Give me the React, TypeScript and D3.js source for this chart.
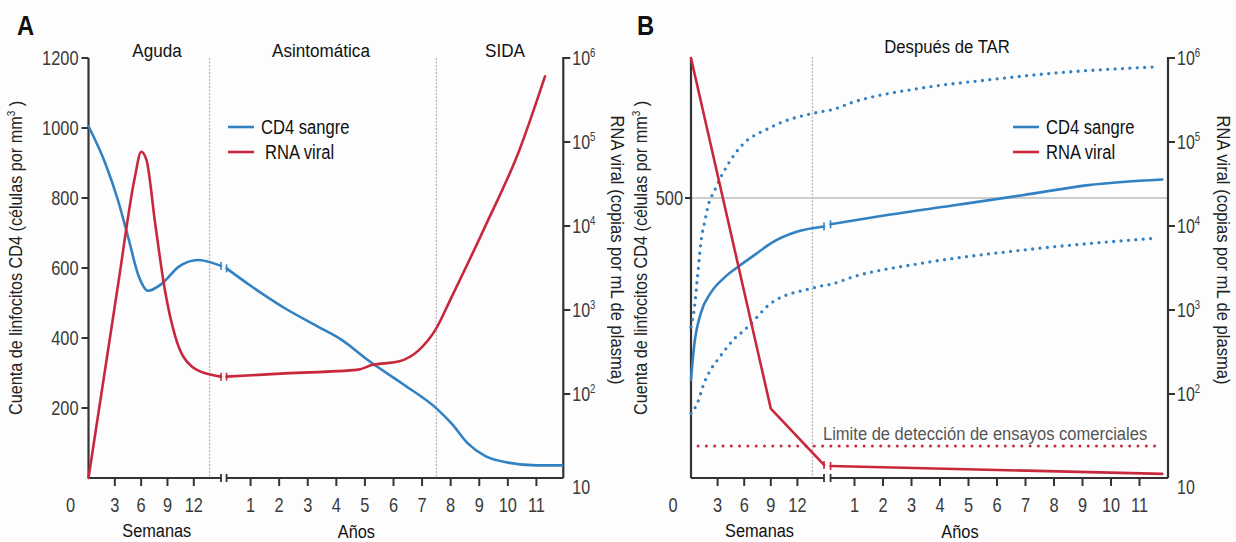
import React from 'react';
import * as d3 from 'd3';

// ---------- data ----------
const weekTicks = [3, 6, 9, 12];
const yearTicks = [1, 2, 3, 4, 5, 6, 7, 8, 9, 10, 11];
const cd4TicksA = [200, 400, 600, 800, 1000, 1200];
const cd4TicksB = [500];
const rnaTicks = [2, 3, 4, 5, 6]; // powers of ten
const phaseLabelsA = ['Aguda', 'Asintomática', 'SIDA'];
const phaseLabelB = 'Después de TAR';
const legendLabels = ['CD4 sangre', 'RNA viral'];
const detectionLabel = 'Limite de detección de ensayos comerciales';

// Panel A – untreated course. [weeks, value] then [years, value]
const cd4AcuteA: [number, number][] = [
  [0, 1005], [1.9, 900], [3.4, 790], [4.55, 685], [5.7, 578], [6.8, 535],
  [8.4, 556], [10.3, 604], [12.5, 623], [15.1, 606],
];
const cd4ChronicA: [number, number][] = [
  [0.16, 599], [1.04, 547], [2.2, 485], [3.37, 432], [4.2, 394], [5.1, 337],
  [6.3, 270], [7.5, 199], [8.03, 156], [8.6, 99], [9.2, 63], [10, 44], [11, 36], [11.9, 36],
];
const rnaAcuteA: [number, number][] = [
  [0, 10], [3.4, 2100], [5.3, 38900], [6.0, 76700], [6.6, 61700], [7.6, 10700],
  [8.7, 1740], [9.9, 479], [11.8, 211], [14.1, 168], [15.1, 161],
];
const rnaChronicA: [number, number][] = [
  [0.16, 161], [2.2, 176], [4.77, 195], [5.24, 221], [6.17, 243], [6.88, 331],
  [7.46, 575], [8.04, 1445], [9.2, 9770], [10.4, 79400], [11.3, 603000],
];

// Panel B – after antiretroviral therapy
const cd4WeeksB: [number, number][] = [
  [0, 175], [0.34, 234], [1.1, 294], [2.2, 330], [3.7, 357], [5.2, 376],
  [7.15, 398], [9, 419], [12, 440], [15, 449],
];
const cd4YearsB: [number, number][] = [
  [0.16, 453], [2.2, 470], [4.5, 487], [6.9, 505], [9.2, 523], [11.8, 533],
];
const cd4HighWeeksB: [number, number][] = [
  [0, 270], [0.35, 300], [0.7, 354], [1.15, 425], [1.55, 458], [2.05, 493],
  [2.6, 511], [3.05, 527], [5.3, 586], [9.1, 627], [13.7, 651], [15, 655],
];
const cd4HighYearsB: [number, number][] = [
  [0.16, 657], [1, 672], [3.3, 696], [5.7, 711], [8, 723], [11.5, 734],
];
const cd4LowWeeksB: [number, number][] = [
  [0, 115], [0.7, 133], [1.47, 169], [2.2, 193], [3.0, 211], [4.1, 234],
  [4.9, 249], [5.8, 261], [6.6, 273], [9, 312], [13.7, 339], [15, 344],
];
const cd4LowYearsB: [number, number][] = [
  [0.16, 346], [1, 360], [3.3, 383], [6.9, 407], [11.5, 428],
];
const rnaWeeksB: [number, number][] = [[0, 1e6], [9, 67], [15, 14.3]];
const rnaYearsB: [number, number][] = [[0.16, 13.9], [11.8, 11.2]];
const detectionLimit = 24;

// ---------- style ----------
const W = 1236;
const H = 542;
const FONT = "'Liberation Sans', Arial, sans-serif";
const BLUE = '#3282c3';
const RED = '#c8283c';
const AXIS = '#333';
const LABEL = '#3a3a3a';
const GUIDE = '#b4b4b4';

const TOP = 58;
const BOTTOM = 478;

type Pt = [number, number];
type Scale = (v: number) => number;

const smooth = d3.line<Pt>().x((d) => d[0]).y((d) => d[1]).curve(d3.curveMonotoneX);
const straight = d3.line<Pt>().x((d) => d[0]).y((d) => d[1]);

const mapPts = (pts: Pt[], sx: Scale, sy: Scale): Pt[] => pts.map((d) => [sx(d[0]), sy(d[1])]);

// Narrow text: the face is squeezed horizontally around its anchor point.
function T({ x, y, size, sx = 0.86, anchor = 'start', fill = '#111', rotate = 0, weight, children }:
  { x: number; y: number; size: number; sx?: number; anchor?: string; fill?: string; rotate?: number; weight?: string; children: React.ReactNode }) {
  return (
    <text
      transform={`translate(${x},${y}) rotate(${rotate}) scale(${sx},1)`}
      fontSize={size}
      fontFamily={FONT}
      fill={fill}
      fontWeight={weight}
      textAnchor={anchor as any}
    >
      {children}
    </text>
  );
}

function Series({ pts, color, curved = true, capStart = false, capEnd = false, dotted = false }:
  { pts: Pt[]; color: string; curved?: boolean; capStart?: boolean; capEnd?: boolean; dotted?: boolean }) {
  const gen = curved ? smooth : straight;
  const first = pts[0];
  const last = pts[pts.length - 1];
  return (
    <g>
      <path
        d={gen(pts) || ''}
        fill="none"
        stroke={color}
        strokeWidth={dotted ? 3.3 : 2.6}
        strokeLinecap="round"
        strokeDasharray={dotted ? '0 7.4' : undefined}
      />
      {capStart && <line x1={first[0]} x2={first[0]} y1={first[1] - 4} y2={first[1] + 4} stroke={color} strokeWidth={1.6} />}
      {capEnd && <line x1={last[0]} x2={last[0]} y1={last[1] - 4} y2={last[1] + 4} stroke={color} strokeWidth={1.6} />}
    </g>
  );
}

function BottomAxis({ xw, xy, weekEnd, yearStart, yearEnd }:
  { xw: d3.ScaleLinear<number, number>; xy: d3.ScaleLinear<number, number>; weekEnd: number; yearStart: number; yearEnd: number }) {
  const wa = xw(0);
  const wb = xw(weekEnd);
  const ya = xy(yearStart);
  const yb = xy(yearEnd);
  return (
    <g>
      <line x1={wa} x2={wb} y1={BOTTOM} y2={BOTTOM} stroke={AXIS} strokeWidth={2.2} />
      <line x1={ya} x2={yb} y1={BOTTOM} y2={BOTTOM} stroke={AXIS} strokeWidth={2.2} />
      <line x1={wb} x2={wb} y1={BOTTOM - 4} y2={BOTTOM + 4} stroke={AXIS} strokeWidth={1.8} />
      <line x1={ya} x2={ya} y1={BOTTOM - 4} y2={BOTTOM + 4} stroke={AXIS} strokeWidth={1.8} />
      <T x={wa - 18} y={512} size={20} sx={0.82} anchor="middle" fill={LABEL}>0</T>
      {weekTicks.map((t) => (
        <g key={'w' + t}>
          <line x1={xw(t)} x2={xw(t)} y1={BOTTOM} y2={BOTTOM + 8} stroke={AXIS} strokeWidth={2} />
          <T x={xw(t)} y={512} size={20} sx={0.82} anchor="middle" fill={LABEL}>{t}</T>
        </g>
      ))}
      {yearTicks.map((t) => (
        <g key={'y' + t}>
          <line x1={xy(t)} x2={xy(t)} y1={BOTTOM} y2={BOTTOM + 8} stroke={AXIS} strokeWidth={2} />
          <T x={xy(t)} y={512} size={20} sx={0.82} anchor="middle" fill={LABEL}>{t}</T>
        </g>
      ))}
      <T x={(wa + wb) / 2 + 2} y={537} size={19} sx={0.86} anchor="middle">Semanas</T>
      <T x={xy(4.7)} y={538} size={19} sx={0.86} anchor="middle">Años</T>
    </g>
  );
}

function RightAxis({ x, yr }: { x: number; yr: d3.ScaleLogarithmic<number, number> }) {
  return (
    <g>
      <line x1={x} x2={x} y1={TOP - 1} y2={BOTTOM} stroke={AXIS} strokeWidth={2.2} />
      {rnaTicks.map((e) => (
        <g key={e}>
          <line x1={x} x2={x + 7} y1={yr(Math.pow(10, e))} y2={yr(Math.pow(10, e))} stroke={AXIS} strokeWidth={2} />
          <T x={x + 9} y={yr(Math.pow(10, e)) + 7} size={20} sx={0.8} fill={LABEL}>
            10<tspan fontSize={12} dy={-8}>{e}</tspan>
          </T>
        </g>
      ))}
      <T x={x + 9} y={BOTTOM + 16} size={20} sx={0.8} fill={LABEL}>10</T>
    </g>
  );
}

function AxisTitles({ xl, xr, cy }: { xl: number; xr: number; cy: number }) {
  return (
    <g>
      <T x={xl} y={cy} size={18} sx={0.9} rotate={-90} anchor="middle" fill="#222">
        Cuenta de linfocitos CD4 (células por mm<tspan fontSize={11} dy={-7}>3</tspan><tspan dy={7}> )</tspan>
      </T>
      <T x={xr} y={cy - 8} size={18} sx={0.92} rotate={90} anchor="middle" fill="#222">
        RNA viral (copias por mL de plasma)
      </T>
    </g>
  );
}

function Legend({ x, tx }: { x: number; tx: number[] }) {
  return (
    <g>
      <line x1={x} x2={x + 26} y1={127} y2={127} stroke={BLUE} strokeWidth={2.6} />
      <T x={tx[0]} y={134} size={21} sx={0.79}>{legendLabels[0]}</T>
      <line x1={x} x2={x + 26} y1={152} y2={152} stroke={RED} strokeWidth={2.6} />
      <T x={tx[1]} y={159} size={21} sx={0.79}>{legendLabels[1]}</T>
    </g>
  );
}

function PanelA() {
  const xw = d3.scaleLinear().domain([0, 15.1]).range([88.5, 221]);
  const xy = d3.scaleLinear().domain([0, 12]).range([222, 565]);
  const yl = d3.scaleLinear().domain([0, 1200]).range([BOTTOM, TOP]);
  const yr = d3.scaleLog().domain([10, 1e6]).range([BOTTOM, TOP]);
  const right = xy(11.94);
  return (
    <g>
      <T x={17} y={35} size={28} sx={0.85} weight="bold">A</T>
      {/* phase boundaries */}
      {[xw(13.8), xy(7.5)].map((x, i) => (
        <line key={i} x1={x} x2={x} y1={TOP} y2={BOTTOM} stroke={GUIDE} strokeWidth={1.2} strokeDasharray="2 1.5" />
      ))}
      <T x={157} y={57} size={19} sx={0.9} anchor="middle">{phaseLabelsA[0]}</T>
      <T x={321} y={57} size={19} sx={0.9} anchor="middle">{phaseLabelsA[1]}</T>
      <T x={505} y={57} size={19} sx={0.9} anchor="middle">{phaseLabelsA[2]}</T>
      {/* left axis */}
      <line x1={xw(0)} x2={xw(0)} y1={TOP} y2={BOTTOM} stroke={AXIS} strokeWidth={2.2} />
      {cd4TicksA.map((t) => (
        <g key={t}>
          <line x1={xw(0) - 7} x2={xw(0)} y1={yl(t)} y2={yl(t)} stroke={AXIS} strokeWidth={2} />
          <T x={xw(0) - 10} y={yl(t) + 7} size={20} sx={0.82} anchor="end" fill={LABEL}>{t}</T>
        </g>
      ))}
      <RightAxis x={right} yr={yr} />
      <BottomAxis xw={xw} xy={xy} weekEnd={15.1} yearStart={0.16} yearEnd={11.94} />
      <AxisTitles xl={22} xr={611} cy={258} />
      <Legend x={228} tx={[261, 265]} />
      {/* series */}
      <Series pts={mapPts(cd4AcuteA, xw, yl)} color={BLUE} capEnd />
      <Series pts={mapPts(cd4ChronicA, xy, yl)} color={BLUE} capStart />
      <Series pts={mapPts(rnaAcuteA, xw, yr)} color={RED} capEnd />
      <Series pts={mapPts(rnaChronicA, xy, yr)} color={RED} capStart />
    </g>
  );
}

function PanelB() {
  const xw = d3.scaleLinear().domain([0, 15]).range([691, 824]);
  const xy = d3.scaleLinear().domain([0, 12]).range([826, 1168]);
  const yl = d3.scaleLinear().domain([0, 500]).range([BOTTOM, 198]);
  const yr = d3.scaleLog().domain([10, 1e6]).range([BOTTOM, TOP]);
  const right = xy(12);
  const high = [...mapPts(cd4HighWeeksB, xw, yl), ...mapPts(cd4HighYearsB, xy, yl)];
  const low = [...mapPts(cd4LowWeeksB, xw, yl), ...mapPts(cd4LowYearsB, xy, yl)];
  return (
    <g>
      <T x={637} y={35} size={28} sx={0.85} weight="bold">B</T>
      <line x1={xw(13.7)} x2={xw(13.7)} y1={TOP - 1} y2={BOTTOM} stroke={GUIDE} strokeWidth={1.3} strokeDasharray="2 1.5" />
      <line x1={xw(0)} x2={right} y1={yl(500)} y2={yl(500)} stroke="#bdbdbd" strokeWidth={1.6} />
      <T x={947} y={53} size={19} sx={0.88} anchor="middle">{phaseLabelB}</T>
      {/* left axis */}
      <line x1={xw(0)} x2={xw(0)} y1={TOP} y2={BOTTOM} stroke={AXIS} strokeWidth={2.2} />
      {cd4TicksB.map((t) => (
        <g key={t}>
          <line x1={xw(0) - 6} x2={xw(0)} y1={yl(t)} y2={yl(t)} stroke={AXIS} strokeWidth={2} />
          <T x={xw(0) - 8} y={yl(t) + 7} size={20} sx={0.82} anchor="end" fill={LABEL}>{t}</T>
        </g>
      ))}
      <RightAxis x={right} yr={yr} />
      <BottomAxis xw={xw} xy={xy} weekEnd={15} yearStart={0.16} yearEnd={12} />
      <AxisTitles xl={647} xr={1217} cy={258} />
      <Legend x={1013} tx={[1046, 1046]} />
      {/* detection limit */}
      <line x1={xw(0.8)} x2={xy(11.8)} y1={yr(detectionLimit)} y2={yr(detectionLimit)} stroke={RED}
        strokeWidth={3} strokeLinecap="round" strokeDasharray="0 8.3" />
      <T x={823} y={440} size={19} sx={0.87} fill="#555">{detectionLabel}</T>
      {/* series */}
      <Series pts={high} color={BLUE} dotted />
      <Series pts={low} color={BLUE} dotted />
      <Series pts={mapPts(cd4WeeksB, xw, yl)} color={BLUE} capEnd />
      <Series pts={mapPts(cd4YearsB, xy, yl)} color={BLUE} capStart />
      <Series pts={mapPts(rnaWeeksB, xw, yr)} color={RED} curved={false} capEnd />
      <Series pts={mapPts(rnaYearsB, xy, yr)} color={RED} curved={false} capStart />
    </g>
  );
}

export default function App() {
  return (
    <svg
      width={W}
      height={H}
      viewBox={`0 0 ${W} ${H}`}
      style={{ position: 'absolute', left: 0, top: 0, display: 'block', background: '#fdfdfd' }}
    >
      <PanelA />
      <PanelB />
    </svg>
  );
}
